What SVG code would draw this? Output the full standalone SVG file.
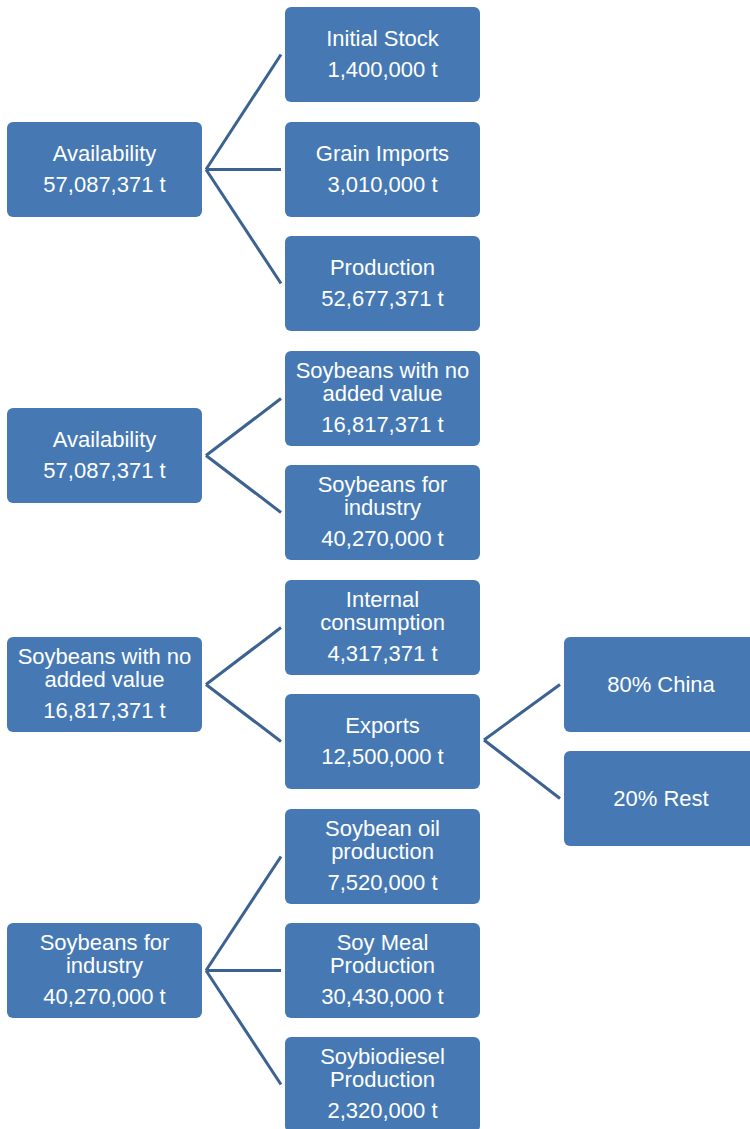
<svg xmlns="http://www.w3.org/2000/svg" width="750" height="1129" viewBox="0 0 750 1129">
  <style>
    .box { fill: #4679b4; }
    .lbl { fill: #ffffff; font-family: "Liberation Sans", Arial, sans-serif; font-size: 22px; text-anchor: middle; }
    .conn { stroke: #3b6291; stroke-width: 3; fill: none; stroke-linecap: butt; }
  </style>

  <!-- connectors -->
  <g id="connectors" class="conn">
    <!-- availability breakdown -->
    <line x1="206" y1="169.5" x2="281" y2="54.5"/>
    <line x1="206" y1="169.5" x2="281" y2="169.5"/>
    <line x1="206" y1="169.5" x2="281" y2="283.5"/>
    <!-- availability use -->
    <line x1="206" y1="455.5" x2="281" y2="398.5"/>
    <line x1="206" y1="455.5" x2="281" y2="512.5"/>
    <!-- soybeans with no added value -->
    <line x1="206" y1="684.5" x2="281" y2="627.5"/>
    <line x1="206" y1="684.5" x2="281" y2="741.5"/>
    <!-- exports -->
    <line x1="484" y1="740" x2="560" y2="684.5"/>
    <line x1="484" y1="740" x2="560" y2="798.5"/>
    <!-- soybeans for industry -->
    <line x1="206" y1="970.5" x2="281" y2="856.5"/>
    <line x1="206" y1="970.5" x2="281" y2="970.5"/>
    <line x1="206" y1="970.5" x2="281" y2="1084.5"/>
  </g>

  <!-- left column -->
  <g id="availability-1">
    <rect class="box" x="7" y="122" width="195" height="95" rx="6"/>
    <text class="lbl" x="104.5" y="161">Availability</text>
    <text class="lbl" x="104.5" y="192">57,087,371 t</text>
  </g>
  <g id="availability-2">
    <rect class="box" x="7" y="408" width="195" height="95" rx="6"/>
    <text class="lbl" x="104.5" y="447">Availability</text>
    <text class="lbl" x="104.5" y="478">57,087,371 t</text>
  </g>
  <g id="no-added-value">
    <rect class="box" x="7" y="637" width="195" height="95" rx="6"/>
    <text class="lbl" x="104.5" y="663.5">Soybeans with no</text>
    <text class="lbl" x="104.5" y="686.5">added value</text>
    <text class="lbl" x="104.5" y="717.5">16,817,371 t</text>
  </g>
  <g id="for-industry">
    <rect class="box" x="7" y="923" width="195" height="95" rx="6"/>
    <text class="lbl" x="104.5" y="949.5">Soybeans for</text>
    <text class="lbl" x="104.5" y="972.5">industry</text>
    <text class="lbl" x="104.5" y="1003.5">40,270,000 t</text>
  </g>

  <!-- middle column -->
  <g id="initial-stock">
    <rect class="box" x="285" y="7" width="195" height="95" rx="6"/>
    <text class="lbl" x="382.5" y="46">Initial Stock</text>
    <text class="lbl" x="382.5" y="77">1,400,000 t</text>
  </g>
  <g id="grain-imports">
    <rect class="box" x="285" y="122" width="195" height="95" rx="6"/>
    <text class="lbl" x="382.5" y="161">Grain Imports</text>
    <text class="lbl" x="382.5" y="192">3,010,000 t</text>
  </g>
  <g id="production">
    <rect class="box" x="285" y="236" width="195" height="95" rx="6"/>
    <text class="lbl" x="382.5" y="275">Production</text>
    <text class="lbl" x="382.5" y="306">52,677,371 t</text>
  </g>
  <g id="no-added-value-share">
    <rect class="box" x="285" y="351" width="195" height="95" rx="6"/>
    <text class="lbl" x="382.5" y="377.5">Soybeans with no</text>
    <text class="lbl" x="382.5" y="400.5">added value</text>
    <text class="lbl" x="382.5" y="431.5">16,817,371 t</text>
  </g>
  <g id="for-industry-share">
    <rect class="box" x="285" y="465" width="195" height="95" rx="6"/>
    <text class="lbl" x="382.5" y="491.5">Soybeans for</text>
    <text class="lbl" x="382.5" y="514.5">industry</text>
    <text class="lbl" x="382.5" y="545.5">40,270,000 t</text>
  </g>
  <g id="internal-consumption">
    <rect class="box" x="285" y="580" width="195" height="95" rx="6"/>
    <text class="lbl" x="382.5" y="606.5">Internal</text>
    <text class="lbl" x="382.5" y="629.5">consumption</text>
    <text class="lbl" x="382.5" y="660.5">4,317,371 t</text>
  </g>
  <g id="exports">
    <rect class="box" x="285" y="694" width="195" height="95" rx="6"/>
    <text class="lbl" x="382.5" y="733">Exports</text>
    <text class="lbl" x="382.5" y="764">12,500,000 t</text>
  </g>
  <g id="soybean-oil">
    <rect class="box" x="285" y="809" width="195" height="95" rx="6"/>
    <text class="lbl" x="382.5" y="835.5">Soybean oil</text>
    <text class="lbl" x="382.5" y="858.5">production</text>
    <text class="lbl" x="382.5" y="889.5">7,520,000 t</text>
  </g>
  <g id="soy-meal">
    <rect class="box" x="285" y="923" width="195" height="95" rx="6"/>
    <text class="lbl" x="382.5" y="949.5">Soy Meal</text>
    <text class="lbl" x="382.5" y="972.5">Production</text>
    <text class="lbl" x="382.5" y="1003.5">30,430,000 t</text>
  </g>
  <g id="soybiodiesel">
    <rect class="box" x="285" y="1037" width="195" height="95" rx="6"/>
    <text class="lbl" x="382.5" y="1063.5">Soybiodiesel</text>
    <text class="lbl" x="382.5" y="1086.5">Production</text>
    <text class="lbl" x="382.5" y="1117.5">2,320,000 t</text>
  </g>

  <!-- export destinations -->
  <g id="china">
    <rect class="box" x="564" y="637" width="195" height="95" rx="6"/>
    <text class="lbl" x="661" y="691.5">80% China</text>
  </g>
  <g id="rest">
    <rect class="box" x="564" y="751" width="195" height="95" rx="6"/>
    <text class="lbl" x="661" y="805.5">20% Rest</text>
  </g>
</svg>
